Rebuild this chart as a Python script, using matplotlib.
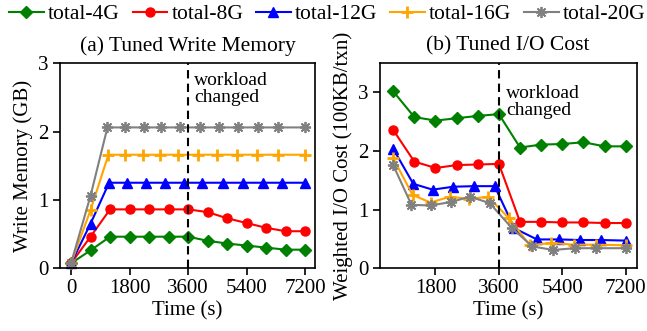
import matplotlib
matplotlib.use("Agg")
from matplotlib import pyplot as plt

plt.rcParams["font.family"] = ["Liberation Serif", "DejaVu Serif"]
plt.rcParams["font.size"] = 15

labels = ["total-4G", "total-8G", "total-12G", "total-16G", "total-20G"]
colors = ["green", "red", "blue", "orange", "gray"]
markers = ["D", "o", "^", "+", (8, 2, 0)]

# sampling times (s) per series, shared by both panels
t_4g = [600, 1200, 1800, 2400, 3000, 3600, 4200, 4800, 5400, 6000, 6600, 7200]
t_8g = [600, 1200, 1800, 2400, 3000, 3600, 4200, 4800, 5400, 6000, 6600, 7200]
t_12g = [600, 1170, 1720, 2300, 2890, 3480, 4040, 4680, 5300, 5900, 6500, 7200]
t_16g = [600, 1150, 1660, 2210, 2750, 3290, 3890, 4480, 5090, 5720, 6370, 7200]
t_20g = [600, 1120, 1670, 2240, 2780, 3340, 3960, 4550, 5140, 5750, 6370, 7200]

# (a) write memory (GB), first value at t=0
mem_4g = [0.07, 0.26, 0.46, 0.46, 0.46, 0.46, 0.46, 0.40, 0.36, 0.33, 0.30, 0.27, 0.27]
mem_8g = [0.07, 0.46, 0.86, 0.86, 0.86, 0.86, 0.86, 0.82, 0.73, 0.66, 0.59, 0.54, 0.54]
mem_12g = [0.07, 0.65, 1.25, 1.25, 1.25, 1.25, 1.25, 1.25, 1.25, 1.25, 1.25, 1.25, 1.25]
mem_16g = [0.07, 0.85, 1.66, 1.66, 1.66, 1.66, 1.66, 1.66, 1.66, 1.66, 1.66, 1.66, 1.66]
mem_20g = [0.07, 1.06, 2.06, 2.06, 2.06, 2.06, 2.06, 2.06, 2.06, 2.06, 2.06, 2.06, 2.06]

# (b) weighted I/O cost (100KB/txn)
io_4g = [3.02, 2.58, 2.52, 2.56, 2.60, 2.63, 2.06, 2.11, 2.12, 2.15, 2.08, 2.08]
io_8g = [2.36, 1.82, 1.71, 1.76, 1.77, 1.78, 0.79, 0.79, 0.78, 0.78, 0.77, 0.77]
io_12g = [2.04, 1.44, 1.34, 1.39, 1.40, 1.40, 0.68, 0.49, 0.49, 0.48, 0.48, 0.47]
io_16g = [1.88, 1.25, 1.12, 1.22, 1.18, 1.22, 0.85, 0.39, 0.43, 0.40, 0.40, 0.39]
io_20g = [1.76, 1.08, 1.07, 1.13, 1.22, 1.11, 0.69, 0.37, 0.31, 0.34, 0.34, 0.34]

times = [t_4g, t_8g, t_12g, t_16g, t_20g]
mems = [mem_4g, mem_8g, mem_12g, mem_16g, mem_20g]
ios = [io_4g, io_8g, io_12g, io_16g, io_20g]

fig = plt.figure(figsize=(6.47, 3.31), dpi=100)
ax1 = fig.add_axes([0.0927, 0.190, 0.394, 0.619])
ax2 = fig.add_axes([0.587, 0.190, 0.397, 0.619])

msizes = [6.5, 6.5, 7, 9, 8]
mews = [1, 1, 1, 2, 1.3]
handles = []
for t, m, io, lab, c, mk, ms, mew in zip(times, mems, ios, labels, colors, markers, msizes, mews):
    kw = dict(color=c, marker=mk, markersize=ms, markeredgewidth=mew, lw=1.5, clip_on=False)
    h, = ax1.plot([0] + t, m, label=lab, **kw)
    ax2.plot(t, io, **kw)
    handles.append(h)

ax1.set_xlim(-340, 7500)
ax1.set_ylim(0, 3)
ax1.set_xticks([0, 1800, 3600, 5400, 7200])
ax1.set_yticks([0, 1, 2, 3])
ax1.set_xlabel("Time (s)", labelpad=2)
ax1.set_ylabel("Write Memory (GB)", labelpad=4)
ax1.set_title("(a) Tuned Write Memory", fontsize=15.5, pad=9)
ax1.axvline(3600, color="black", ls="--", lw=1.5, dashes=(4, 2.5))
ax1.text(3790, 2.87, "workload\nchanged", fontsize=14, va="top", ha="left", linespacing=1.0)

ax2.set_xlim(220, 7510)
ax2.set_ylim(0, 3.5)
ax2.set_xticks([1800, 3600, 5400, 7200])
ax2.set_yticks([0, 1, 2, 3])
ax2.set_xlabel("Time (s)", labelpad=2)
ax2.set_ylabel("Weighted I/O Cost (100KB/txn)", labelpad=4)
ax2.set_title("(b) Tuned I/O Cost", fontsize=15.5, pad=9)
ax2.axvline(3600, color="black", ls="--", lw=1.5, dashes=(4, 2.5))
ax2.text(3800, 3.13, "workload\nchanged", fontsize=14, va="top", ha="left", linespacing=1.0)

for ax in (ax1, ax2):
    ax.tick_params(direction="out", length=5, width=1.2, pad=3)
    for s in ax.spines.values():
        s.set_linewidth(1.2)

fig.legend(handles=handles, loc="center", bbox_to_anchor=(0.506, 0.957), ncol=5,
           frameon=False, handlelength=1.6, handletextpad=0.2, columnspacing=0.6,
           borderaxespad=0, fontsize=15.5)

fig.savefig("out.png", dpi=100)
